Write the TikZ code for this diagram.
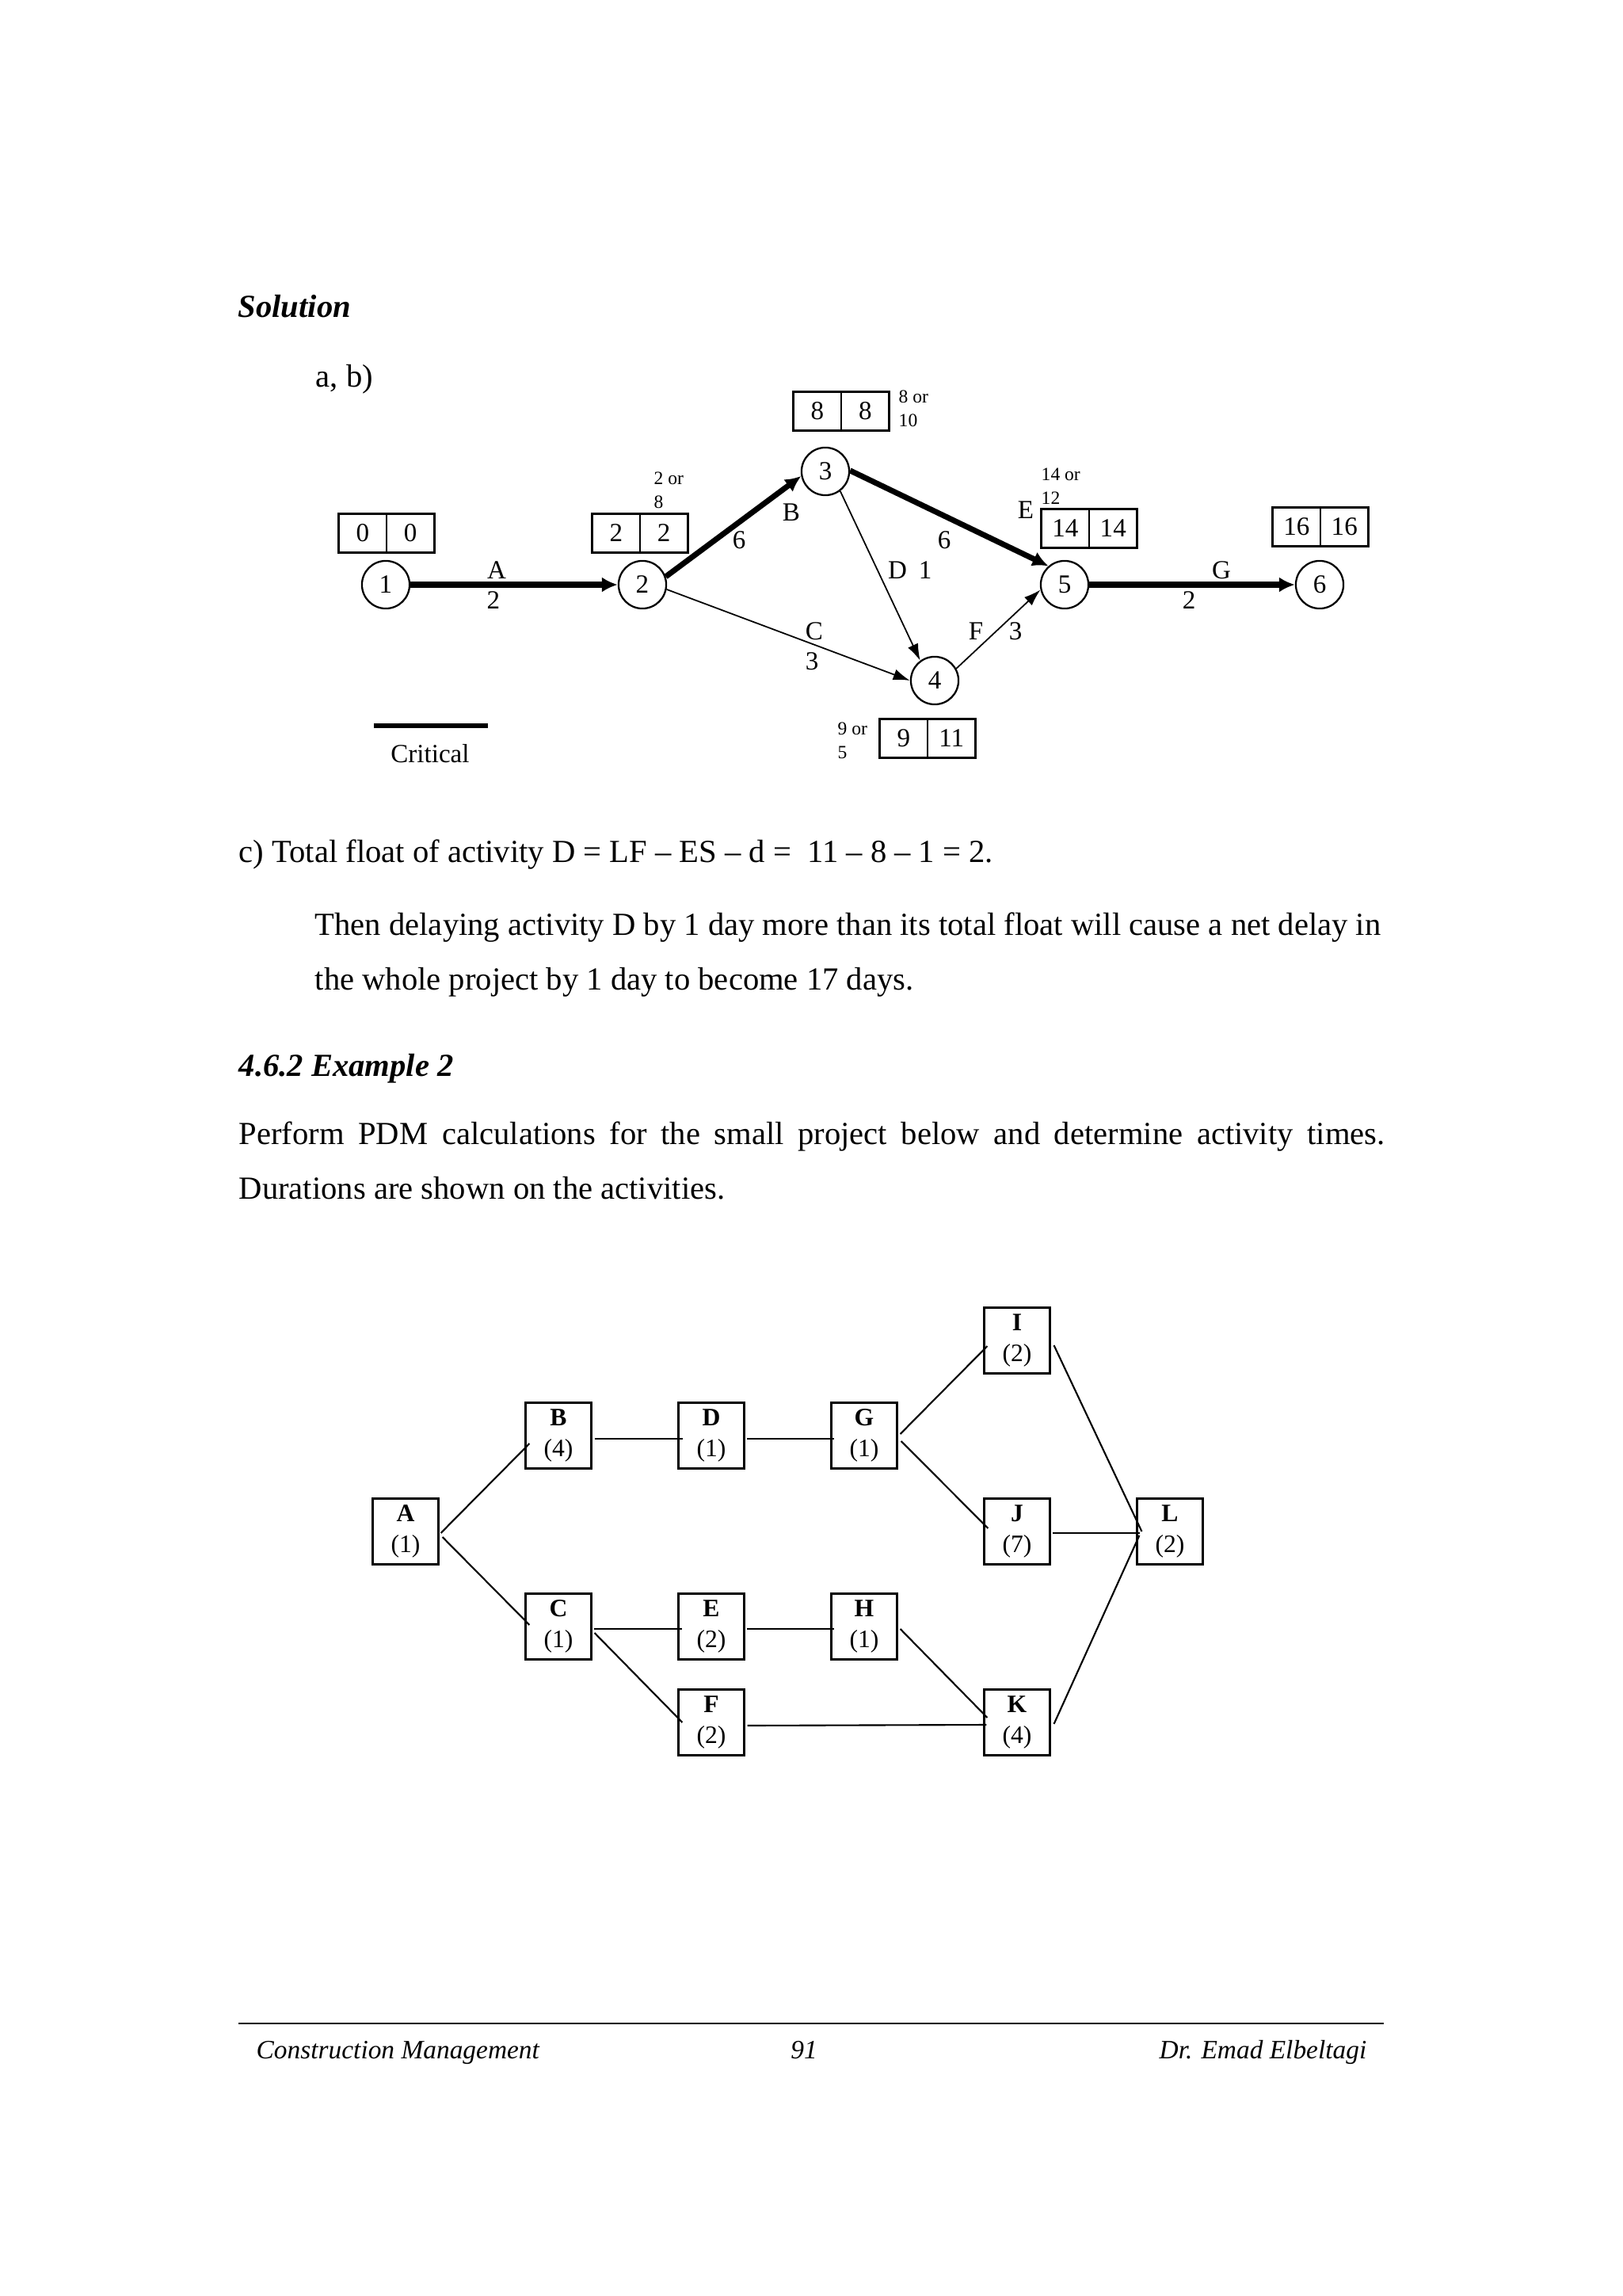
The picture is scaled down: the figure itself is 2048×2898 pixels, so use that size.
\documentclass[tikz,border=0pt]{standalone}
\usepackage{fontspec}
\setmainfont{Liberation Serif}
\usetikzlibrary{positioning, calc, arrows.meta}

\newcommand\bodyfont{\fontsize{11.55}{14}\selectfont}
\newcommand\diagfont{\fontsize{9.4}{11}\selectfont}
\newcommand\notefont{\fontsize{6.7}{8.5}\selectfont}
\newcommand\actfont{\fontsize{9}{11}\selectfont}
\newcommand\footfont{\fontsize{9.5}{12}\selectfont\itshape}

% two-cell event box, placed at its middle line
\newcommand\evbox[4]{%
  \node[cell, anchor=east] (#1l) at (#2) {#3};
  \node[cell, right=0pt of #1l] (#1r) {#4};}

\tikzset{
  ev/.style={circle, draw, line width=0.65pt, minimum size=17.1pt, inner sep=0pt, font=\diagfont},
  cell/.style={draw, line width=0.65pt, minimum width=17.2pt, minimum height=13.9pt, inner sep=0pt, outer sep=0pt, font=\diagfont},
  lbl/.style={inner sep=0pt, font=\diagfont},
  note/.style={inner sep=0pt, anchor=north west, align=left, font=\notefont},
  crit/.style={line width=2pt, -{Latex[length=5.7pt,width=5.5pt]}},
  noncrit/.style={line width=0.5pt, -{Latex[length=6pt,width=4pt]}},
  act/.style={draw, line width=0.6pt, minimum size=23.6pt, inner sep=0pt, align=center, font=\actfont},
  link/.style={line width=0.6pt},
  body/.style={inner sep=0pt, anchor=base west, font=\bodyfont},
}

\begin{document}
\begin{tikzpicture}[x=0.01cm, y=-0.01cm]
\fill[white] (0,0) rectangle (2048,2898);
\useasboundingbox (0,0) rectangle (2048,2898);

% headings and text
\node[body, font=\bodyfont\bfseries\itshape] (sol) at (300,401) {Solution};
\node[body] (ab) at (398,489) {a, b)};

% arrow network
\node[ev] (n1) at (487,738) {1};
\node[ev] (n2) at (811,738) {2};
\node[ev] (n3) at (1042,595) {3};
\node[ev] (n4) at (1180,859) {4};
\node[ev] (n5) at (1344,738) {5};
\node[ev] (n6) at (1666,738) {6};

\evbox{b1}{488,673}{0}{0}
\evbox{b2}{808,673}{2}{2}
\evbox{b3}{1062,519}{8}{8}
\evbox{b4}{1171,932}{9}{11}
\evbox{b5}{1375,667}{14}{14}
\evbox{b6}{1667,665}{16}{16}

\node[note] (o2) at (825,595) {2 or\\8};
\node[note] (o3) at (1134,492) {8 or\\10};
\node[note] (o4) at (1057,911) {9 or\\5};
\node[note] (o5) at (1314,590) {14 or\\12};

\draw[crit] (n1) -- (n2);
\draw[crit] (n2.19) -- (n3.191);
\draw[crit] (n3.2) -- (n5.131);
\draw[crit] (n5) -- (n6);
\draw[noncrit] (n2.-11) -- (n4.180);
\draw[noncrit] (n3.-53) -- (n4.126);
\draw[noncrit] (n4.29) -- (n5.192);

\node[lbl] (lA) at (627,720) {A};
\node[lbl] (dA) at (623,758) {2};
\node[lbl] (lB) at (999,647) {B};
\node[lbl] (dB) at (933,682) {6};
\node[lbl] (lC) at (1028,797) {C};
\node[lbl] (dC) at (1025,835) {3};
\node[lbl] (lD) at (1133,720) {D};
\node[lbl] (dD) at (1168,720) {1};
\node[lbl] (lE) at (1295,644) {E};
\node[lbl] (dE) at (1192,682) {6};
\node[lbl] (lF) at (1232,797) {F};
\node[lbl] (dF) at (1282,797) {3};
\node[lbl] (lG) at (1542,720) {G};
\node[lbl] (dG) at (1501,758) {2};

% legend
\coordinate (critL) at (472,916);
\coordinate (critR) at (616,916);
\draw[line width=1.7pt] (critL) -- (critR);
\node[lbl, anchor=base] (critT) at (543,962) {Critical};

\node[body] (t1) at (301,1088) {c) Total float of activity D = LF -- ES -- d =\ \ 11 -- 8 -- 1 = 2.};
\node[body] (t2) at (397,1180) {Then delaying activity D by 1 day more than its total float will cause a net delay in};
\node[body] (t3) at (397,1249) {the whole project by 1 day to become 17 days.};
\node[body, font=\bodyfont\bfseries\itshape] (t4) at (301,1358) {4.6.2 Example 2};
\node[body] (t5) at (301,1444) {\makebox[411.4pt][s]{Perform PDM calculations for the small project below and determine activity times.}};
\node[body] (t6) at (301,1513) {Durations are shown on the activities.};

% precedence network
\node[act] (A) at (512,1933) {\textbf{A}\\(1)};
\node[act] (B) at (705,1812) {\textbf{B}\\(4)};
\node[act] (C) at (705,2053) {\textbf{C}\\(1)};
\node[act] (D) at (898,1812) {\textbf{D}\\(1)};
\node[act] (E) at (898,2053) {\textbf{E}\\(2)};
\node[act] (F) at (898,2174) {\textbf{F}\\(2)};
\node[act] (G) at (1091,1812) {\textbf{G}\\(1)};
\node[act] (H) at (1091,2053) {\textbf{H}\\(1)};
\node[act] (I) at (1284,1692) {\textbf{I}\\(2)};
\node[act] (J) at (1284,1933) {\textbf{J}\\(7)};
\node[act] (K) at (1284,2174) {\textbf{K}\\(4)};
\node[act] (L) at (1477,1933) {\textbf{L}\\(2)};

\draw[link] ($(A.east)+(2,2)$) -- ($(B.west)+(6,10)$);
\draw[link] ($(A.east)+(4,7)$) -- ($(C.west)+(6,-2)$);
\draw[link] ($(B.east)+(3,4)$) -- ($(D.west)+(7,4)$);
\draw[link] ($(C.east)+(2,3)$) -- ($(E.west)+(6,3)$);
\draw[link] ($(C.east)+(3,8)$) -- ($(F.west)+(6,0)$);
\draw[link] ($(D.east)+(2,4)$) -- ($(G.west)+(5,4)$);
\draw[link] ($(E.east)+(2,3)$) -- ($(H.west)+(5,3)$);
\draw[link] ($(F.east)+(3,4)$) -- ($(K.west)+(4,3)$);
\draw[link] ($(G.east)+(3,-2)$) -- ($(I.west)+(5,7)$);
\draw[link] ($(G.east)+(4,7)$) -- ($(J.west)+(6,-4)$);
\draw[link] ($(H.east)+(3,3)$) -- ($(K.west)+(5,-6)$);
\draw[link] ($(I.east)+(4,6)$) -- ($(L.west)+(7,0)$);
\draw[link] ($(J.east)+(2,2)$) -- ($(L.west)+(5,2)$);
\draw[link] ($(K.east)+(4,2)$) -- ($(L.west)+(4,5)$);

% footer
\coordinate (ruleL) at (301,2554);
\coordinate (ruleR) at (1747,2554);
\draw[line width=0.5pt] (ruleL) -- (ruleR);
\node[inner sep=0pt, anchor=base west, font=\footfont] (fl) at (323,2598) {Construction Management};
\node[inner sep=0pt, anchor=base, font=\footfont] (fc) at (1015,2598) {91};
\node[inner sep=0pt, anchor=base east, font=\footfont] (fr) at (1726,2598) {Dr. Emad Elbeltagi};
\end{tikzpicture}
\end{document}
